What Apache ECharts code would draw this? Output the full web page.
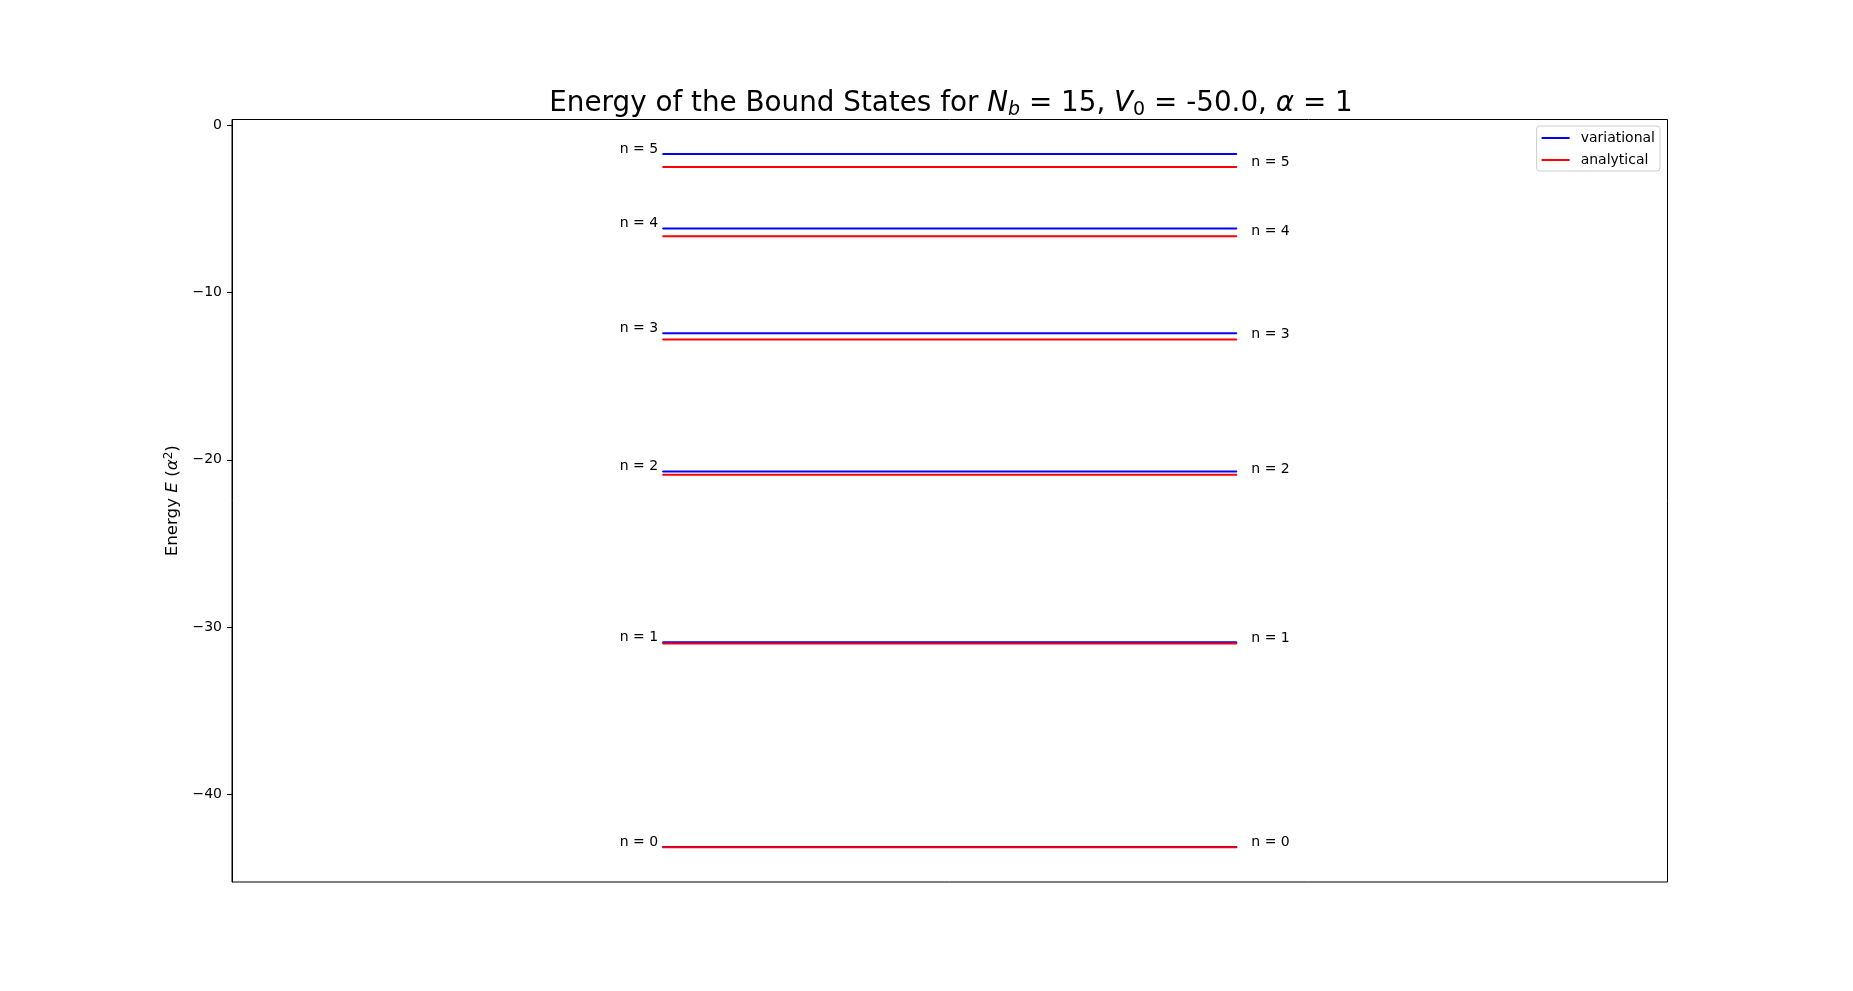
<!DOCTYPE html>
<html>
<head>
<meta charset="utf-8">
<script src="https://cdn.jsdelivr.net/npm/echarts@6/dist/echarts.min.js"></script>
<style>html,body{margin:0;padding:0;background:#fff;}#c{width:1853px;height:991px;}</style>
</head>
<body>
<div id="c"></div>
<script>
// ---- data ----
const levels = [0, 1, 2, 3, 4, 5];
const variational = [-43.18, -30.92, -20.7, -12.42, -6.15, -1.7];
const analytical = [-43.19, -31.0, -20.9, -12.8, -6.62, -2.48];
const yTicks = [0, -10, -20, -30, -40];
const lineSpan = [0, 1];
const legendNames = ['variational', 'analytical'];
const colors = { variational: '#0000ff', analytical: '#ff0000' };

const FONT = 'DejaVu Sans';
const chart = echarts.init(document.getElementById('c'), null, { renderer: 'canvas' });

function levelSeries(name, values, side) {
  return levels.map((n, i) => {
    const lab = {
      show: true,
      position: side,
      distance: side === 'left' ? 4 : 14,
      offset: [0, -5],
      formatter: 'n = ' + n,
      color: '#000',
      fontFamily: FONT,
      fontSize: 14
    };
    const p0 = { value: [lineSpan[0], values[i]] };
    const p1 = { value: [lineSpan[1], values[i]] };
    if (side === 'left') p0.label = lab; else p1.label = lab;
    return {
      name: name,
      type: 'line',
      data: [p0, p1],
      showSymbol: true,
      symbol: 'circle',
      symbolSize: 1,
      itemStyle: { color: colors[name] },
      lineStyle: { color: colors[name], width: 2 },
      label: { show: false },
      emphasis: { disabled: true },
      silent: true,
      animation: false
    };
  });
}

const series = [].concat(
  levelSeries('variational', variational, 'left'),
  levelSeries('analytical', analytical, 'right')
);

chart.setOption({
  backgroundColor: '#fff',
  animation: false,
  title: {
    text: 'Energy of the Bound States for {i|N}{subi|b} = 15, {i|V}{sub|0} = -50.0, {i|α} = 1',
    left: 951,
    top: 86.5,
    padding: 0,
    textAlign: 'center',
    textStyle: {
      fontFamily: FONT, fontSize: 27.8, fontWeight: 'normal', color: '#000', lineHeight: 34,
      rich: {
        i: { fontFamily: FONT, fontSize: 27.8, fontStyle: 'italic', color: '#000', lineHeight: 34 },
        sub: { fontFamily: FONT, fontSize: 19, color: '#000', padding: [14, 0, 0, 0], lineHeight: 19 },
        subi: { fontFamily: FONT, fontSize: 19, fontStyle: 'italic', color: '#000', padding: [14, 0, 0, 0], lineHeight: 19 }
      }
    }
  },
  legend: {
    data: legendNames,
    orient: 'vertical',
    right: 193,
    top: 126,
    icon: 'rect',
    itemWidth: 28,
    itemHeight: 2,
    itemGap: 8,
    padding: [5, 5, 4, 5],
    borderColor: '#cccccc',
    borderWidth: 1,
    borderRadius: 3,
    backgroundColor: 'rgba(255,255,255,0.8)',
    formatter: name => '{t|' + name + '}',
    textStyle: {
      fontFamily: FONT, fontSize: 14, color: '#000',
      rich: { t: { fontFamily: FONT, fontSize: 14, color: '#000', padding: [0, 0, 0, 6] } }
    },
    selectedMode: false
  },
  grid: {
    left: 232, right: 185.5, top: 119.5, bottom: 109,
    show: true, borderColor: '#000', borderWidth: 1, backgroundColor: 'transparent',
    containLabel: false
  },
  xAxis: {
    type: 'value', min: -0.75, max: 1.75, show: false
  },
  yAxis: {
    type: 'value',
    min: -45.27,
    max: 0.37,
    name: 'Energy {i|E} ({i|α}{sup|2})',
    nameLocation: 'middle',
    nameGap: 48,
    nameRotate: 90,
    nameTextStyle: {
      fontFamily: FONT, fontSize: 16.7, color: '#000',
      rich: {
        i: { fontFamily: FONT, fontSize: 16.7, fontStyle: 'italic', color: '#000' },
        sup: { fontFamily: FONT, fontSize: 12, color: '#000', padding: [0, 0, 8, 0] }
      }
    },
    axisLine: { show: true, onZero: false, lineStyle: { color: '#000', width: 1 } },
    axisTick: { show: true, inside: false, length: 5, lineStyle: { color: '#000', width: 1 }, customValues: yTicks },
    axisLabel: {
      show: true, margin: 10, color: '#000', fontFamily: FONT, fontSize: 14,
      customValues: yTicks,
      formatter: v => String(v).replace('-', '\u2212')
    },
    splitLine: { show: false }
  },
  series: series
});
</script>
</body>
</html>
